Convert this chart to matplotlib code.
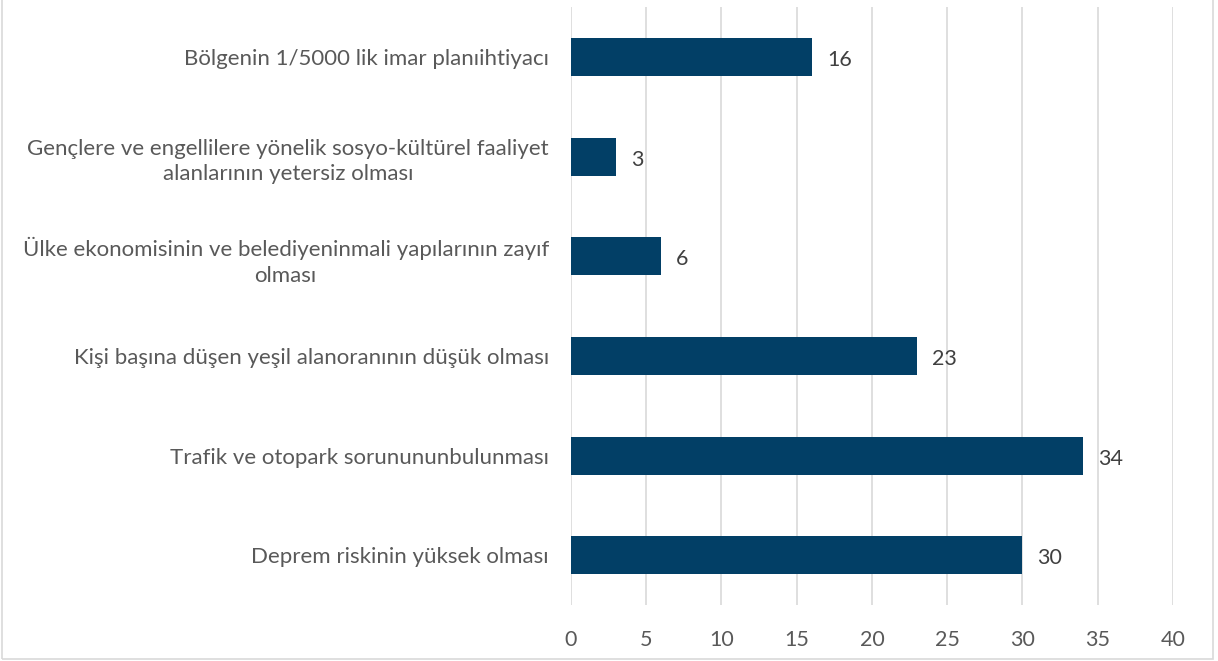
import matplotlib.pyplot as plt
from matplotlib.patches import Rectangle

categories = [
    "Bölgenin 1/5000 lik imar planıihtiyacı",
    "Gençlere ve engellilere yönelik sosyo-kültürel faaliyet\nalanlarının yetersiz olması",
    "Ülke ekonomisinin ve belediyeninmali yapılarının zayıf\nolması",
    "Kişi başına düşen yeşil alanoranının düşük olması",
    "Trafik ve otopark sorunununbulunması",
    "Deprem riskinin yüksek olması",
]
values = [16, 3, 6, 23, 34, 30]
xticks = [0, 5, 10, 15, 20, 25, 30, 35, 40]

plt.rcParams['font.family'] = ['Lato', 'DejaVu Sans']

fig = plt.figure(figsize=(12.18, 6.61), dpi=100)
ax = fig.add_axes([0.4688, 0.0847, 0.4942, 0.9043])

pos = list(range(len(categories)))
ax.barh(pos, values, height=0.38, color="#023f66", zorder=3)
for p, v in zip(pos, values):
    ax.text(v + 1.0, p + 0.03, str(v), va="center", ha="left", fontsize=15.5, color="#404040")

ax.set_ylim(len(categories) - 0.5, -0.5)
ax.set_xlim(0, 40)
ax.set_xticks(xticks)
ax.set_yticks(pos)
ax.set_yticklabels(categories, fontsize=16, color="#595959",
                   multialignment="center", linespacing=1.35)
ax.tick_params(axis="x", labelsize=15.5, colors="#595959", length=0, pad=18)
ax.tick_params(axis="y", length=0, pad=16)
ax.grid(axis="x", color="#d9d9d9", linewidth=1.2, zorder=0)
for s in ax.spines.values():
    s.set_visible(False)

# light grey frame around the whole chart
fig.patches.append(Rectangle((0.002, 0.003), 0.994, 1.2, transform=fig.transFigure,
                             fill=False, edgecolor="#d9d9d9", linewidth=1.2))

fig.savefig("out.png", dpi=100)
